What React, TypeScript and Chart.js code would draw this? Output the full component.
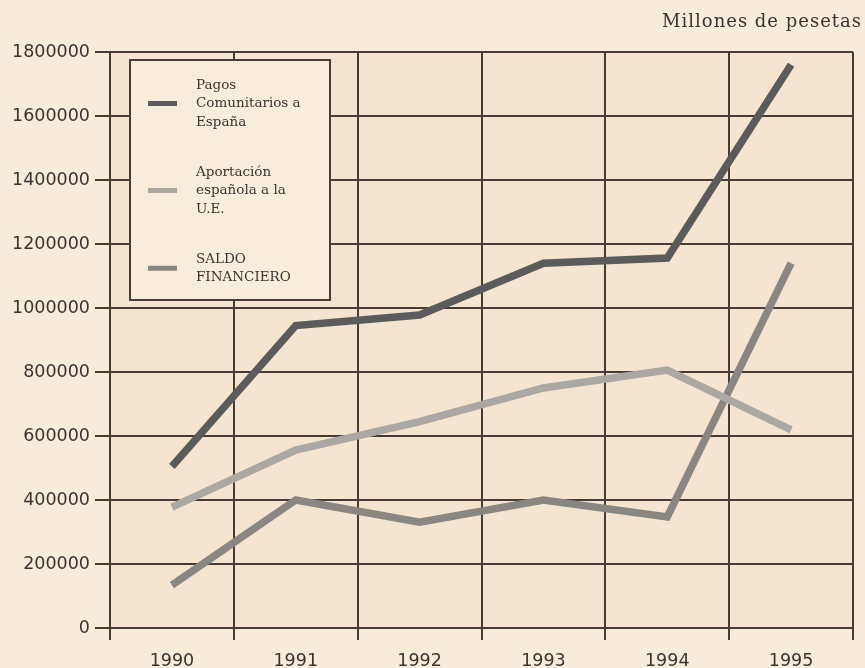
import React, { useEffect, useRef } from "react";
import { Chart, registerables } from "chart.js";

Chart.register(...registerables);

const years = ["1990", "1991", "1992", "1993", "1994", "1995"];
const pagosComunitarios = [505000, 945000, 978000, 1140000, 1156000, 1760000];
const aportacionEspanola = [378000, 556000, 645000, 750000, 806000, 619000];
const saldoFinanciero = [134000, 400000, 331000, 400000, 347000, 1140000];
const seriesNames = [
  "Pagos Comunitarios a España",
  "Aportación española a la U.E.",
  "SALDO FINANCIERO",
];
const legendLines = [
  ["Pagos", "Comunitarios a", "España"],
  ["Aportación", "española a la", "U.E."],
  ["SALDO", "FINANCIERO"],
];
const seriesColors = ["#5b5b5b", "#aba7a3", "#8a8783"];
const unitLabel = "Millones de pesetas";
const yMin = 0;
const yMax = 1800000;
const yStep = 200000;

const PAGE_BG = "#f7ebd9";
const PLOT_BG = "#f5e4d0";
const INK = "#463c34";
const TEXT = "#3a342f";

export default function App() {
  const canvasRef = useRef<HTMLCanvasElement | null>(null);

  useEffect(() => {
    const canvas = canvasRef.current;
    if (!canvas) return;

    const bgPlugin = {
      id: "bgPlugin",
      beforeDraw(chart: any) {
        const { ctx, chartArea } = chart;
        ctx.save();
        ctx.fillStyle = PAGE_BG;
        ctx.fillRect(0, 0, chart.width, chart.height);
        ctx.fillStyle = PLOT_BG;
        ctx.fillRect(chartArea.left, chartArea.top, chartArea.right - chartArea.left, chartArea.bottom - chartArea.top);
        ctx.restore();
      },
    };

    const decorPlugin = {
      id: "decorPlugin",
      afterDraw(chart: any) {
        const { ctx } = chart;
        ctx.save();
        // unit label
        ctx.font = "18px 'DejaVu Serif'";
        (ctx as any).letterSpacing = "1px";
        ctx.fillStyle = TEXT;
        ctx.textAlign = "right";
        ctx.textBaseline = "middle";
        ctx.fillText(unitLabel, 862, 22);
        (ctx as any).letterSpacing = "0px";

        // legend box
        const bx = 130, by = 60, bw = 200, bh = 240;
        ctx.fillStyle = "#f8ecdb";
        ctx.fillRect(bx, by, bw, bh);
        ctx.strokeStyle = INK;
        ctx.lineWidth = 2;
        ctx.strokeRect(bx, by, bw, bh);

        ctx.font = "13.5px 'DejaVu Serif'";
        ctx.textAlign = "left";
        ctx.textBaseline = "middle";
        const lineH = 18.5;
        const entryGap = 50;
        let y = 85;
        legendLines.forEach((lines, i) => {
          const first = y;
          lines.forEach((ln, j) => {
            ctx.fillStyle = TEXT;
            ctx.fillText(ln, 196, y);
            if (j < lines.length - 1) y += lineH;
          });
          const center = (first + y) / 2;
          ctx.fillStyle = seriesColors[i];
          ctx.fillRect(148, center - 2.5, 29, 5);
          y += entryGap;
        });
        ctx.restore();
      },
    };

    const mk = (i: number, data: number[]) => ({
      label: seriesNames[i],
      data,
      borderColor: seriesColors[i],
      backgroundColor: seriesColors[i],
      borderWidth: 7.5,
      borderCapStyle: "butt" as const,
      borderJoinStyle: "miter" as const,
      pointRadius: 0,
      pointHoverRadius: 0,
      tension: 0,
      fill: false,
    });

    const chart = new Chart(canvas, {
      type: "line",
      data: {
        labels: years,
        datasets: [mk(0, pagosComunitarios), mk(1, aportacionEspanola), mk(2, saldoFinanciero)],
      },
      options: {
        responsive: false,
        animation: false,
        devicePixelRatio: 1,
        layout: { padding: { top: 52, right: 12, left: 0, bottom: 0 } },
        plugins: {
          legend: { display: false },
          title: { display: false },
          tooltip: { enabled: false },
        },
        scales: {
          x: {
            type: "category",
            offset: true,
            grid: {
              offset: true,
              color: INK,
              lineWidth: 2,
              tickLength: 12,
              drawTicks: true,
            },
            border: { display: true, color: INK, width: 2 },
            ticks: {
              color: TEXT,
              font: { family: "'DejaVu Sans'", size: 17.5 },
              padding: 11,
              maxRotation: 0,
              autoSkip: false,
            },
            afterFit(scale: any) {
              scale.height = 40;
            },
          },
          y: {
            min: yMin,
            max: yMax,
            grid: {
              color: INK,
              lineWidth: 2,
              tickLength: 15,
            },
            border: { display: true, color: INK, width: 2 },
            ticks: {
              stepSize: yStep,
              color: TEXT,
              padding: 5,
              font: { family: "'DejaVu Sans'", size: 17.5 },
              callback: (v: any) => String(v),
            },
            afterFit(scale: any) {
              scale.width = 110;
            },
          },
        },
      },
      plugins: [bgPlugin, decorPlugin],
    });

    return () => chart.destroy();
  }, []);

  return (
    <div style={{ position: "fixed", left: 0, top: 0, width: 865, height: 668 }}>
      <canvas ref={canvasRef} width={865} height={668} style={{ display: "block" }} />
    </div>
  );
}
